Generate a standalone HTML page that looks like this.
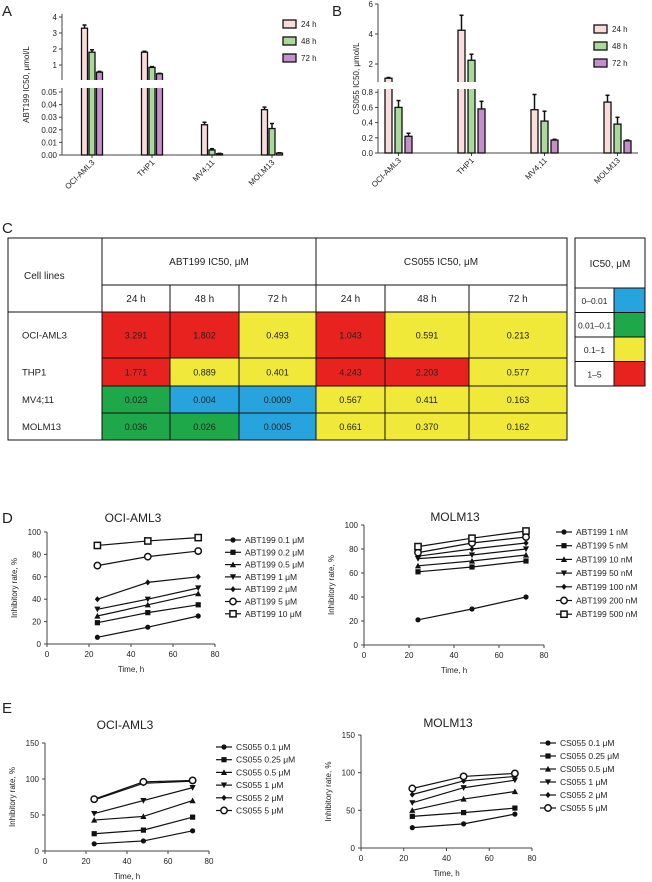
<!DOCTYPE html>
<html><head><meta charset="utf-8">
<style>
body{margin:0;background:#fff;font-family:"Liberation Sans",sans-serif;}
svg{display:block}
text{font-family:"Liberation Sans","DejaVu Sans",sans-serif;fill:#222}
</style></head>
<body>
<svg id="fig" width="652" height="882" viewBox="0 0 652 882" xmlns="http://www.w3.org/2000/svg">
<text x="2" y="16" font-size="15">A</text>
<text x="332" y="16" font-size="15">B</text>
<text x="2" y="233" font-size="15">C</text>
<text x="2" y="523" font-size="15">D</text>
<text x="2" y="713" font-size="15">E</text>
<g id="gA"></g>
<g id="gB"></g>
<g id="gC"></g>
<g id="gD1"></g>
<g id="gD2"></g>
<g id="gE1"></g>
<g id="gE2"></g>
</svg>
<script>
// ---- Panel A/B data ----
const barCategories = ["OCI-AML3","THP1","MV4;11","MOLM13"];
const timeLabels = ["24 h","48 h","72 h"];
const abt24 = [3.3,1.8,0.024,0.036];
const abt48 = [1.8,0.85,0.004,0.021];
const abt72 = [0.55,0.45,0.001,0.0015];
const abtErr24 = [0.2,0.06,0.002,0.002];
const abtErr48 = [0.15,0.05,0.001,0.004];
const abtErr72 = [0.05,0.03,0.0003,0.0003];
const cs24 = [1.05,4.25,0.57,0.67];
const cs48 = [0.6,2.25,0.42,0.38];
const cs72 = [0.22,0.58,0.17,0.16];
const csErr24 = [0.05,1.0,0.2,0.09];
const csErr48 = [0.09,0.4,0.13,0.09];
const csErr72 = [0.04,0.1,0.01,0.01];
const abtUpperTicks = [1,2,3,4];
const abtLowerTicks = ["0.00","0.01","0.02","0.03","0.04","0.05"];
const csUpperTicks = [2,4,6];
const csLowerTicks = ["0.0","0.2","0.4","0.6","0.8"];
// ---- Panel C data ----
const tableRows = ["OCI-AML3","THP1","MV4;11","MOLM13"];
const abtTable = [["3.291","1.802","0.493"],["1.771","0.889","0.401"],["0.023","0.004","0.0009"],["0.036","0.026","0.0005"]];
const csTable = [["1.043","0.591","0.213"],["4.243","2.203","0.577"],["0.567","0.411","0.163"],["0.661","0.370","0.162"]];
const legendRanges = ["0\u20130.01","0.01\u20130.1","0.1\u20131","1\u20135"];
// ---- Panel D/E data ----
const timesH = [24,48,72];
const xTicks = [0,20,40,60,80];
const dTicks = [0,20,40,60,80,100];
const eTicks = [0,50,100,150];
const dOciLabels = ["ABT199 0.1 \u03bcM","ABT199 0.2 \u03bcM","ABT199 0.5 \u03bcM","ABT199 1 \u03bcM","ABT199 2 \u03bcM","ABT199 5 \u03bcM","ABT199 10 \u03bcM"];
const dOci01 = [6,15,25];
const dOci02 = [19,28,35];
const dOci05 = [25,35,45];
const dOci1 = [31,40,50];
const dOci2 = [40,55,60];
const dOci5 = [70,78,83];
const dOci10 = [88,92,95];
const dMolmLabels = ["ABT199 1 nM","ABT199 5 nM","ABT199 10 nM","ABT199 50 nM","ABT199 100 nM","ABT199 200 nM","ABT199 500 nM"];
const dMolm1 = [21,30,40];
const dMolm5 = [61,65,70];
const dMolm10 = [66,70,75];
const dMolm50 = [72,75,80];
const dMolm100 = [74,80,85];
const dMolm200 = [77,85,90];
const dMolm500 = [82,89,95];
const eLabels = ["CS055 0.1 \u03bcM","CS055 0.25 \u03bcM","CS055 0.5 \u03bcM","CS055 1 \u03bcM","CS055 2 \u03bcM","CS055 5 \u03bcM"];
const eOci01 = [10,14,28];
const eOci025 = [24,29,47];
const eOci05 = [43,48,70];
const eOci1 = [52,70,88];
const eOci2 = [71,94,97];
const eOci5 = [72,96,98];
const eMolm01 = [27,32,45];
const eMolm025 = [42,47,53];
const eMolm05 = [50,65,75];
const eMolm1 = [60,80,90];
const eMolm2 = [71,89,95];
const eMolm5 = [79,95,99];

const NS="http://www.w3.org/2000/svg";
function mk(tag,attrs,parent){const e=document.createElementNS(NS,tag);for(const k in attrs)e.setAttribute(k,attrs[k]);parent.appendChild(e);return e;}
function txt(s,attrs,parent){const e=mk('text',attrs,parent);e.textContent=s;return e;}
const fills=["#fbdcdc","#a9d99b","#c58fcb"];

function barChart(g,o){
  const yLow=v=>o.low0-v*o.lowK, yUp=v=>o.up0-v*o.upK;
  const yv=v=>v<=o.lowMax?yLow(v):yUp(v);
  const xc=i=>o.x0+o.gap*(i+0.5);
  let a=mk('line',{x1:o.ax,y1:o.yTop,x2:o.ax,y2:o.brkTop,stroke:'#444','stroke-width':1},g);
  
  a=mk('line',{x1:o.ax,y1:o.brkBot,x2:o.ax,y2:o.low0,stroke:'#444','stroke-width':1},g);
  
  a=mk('line',{x1:o.ax,y1:o.low0,x2:o.xEnd,y2:o.low0,stroke:'#444','stroke-width':1},g);
  
  o.upTicks.forEach(t=>{const y=yUp(t);mk('line',{x1:o.ax-3,y1:y,x2:o.ax,y2:y,stroke:'#444'},g);
    const l=txt(String(t),{x:o.ax-5,y:y+3,'font-size':8,'text-anchor':'end'},g);
    });
  o.lowTicks.forEach(t=>{const y=yLow(parseFloat(t));mk('line',{x1:o.ax-3,y1:y,x2:o.ax,y2:y,stroke:'#444'},g);
    const l=txt(t,{x:o.ax-5,y:y+3,'font-size':8,'text-anchor':'end'},g);
    });
  const yl=txt(o.ylabel,{x:0,y:0,'font-size':8,'text-anchor':'middle',transform:`translate(${o.ylx},${(o.yTop+o.low0)/2}) rotate(-90)`},g);
  
  const series=[o.s24,o.s48,o.s72], errs=[o.e24,o.e48,o.e72];
  barCategories.forEach((c,i)=>{
    const cx=xc(i);
    mk('line',{x1:cx,y1:o.low0,x2:cx,y2:o.low0+3,stroke:'#444'},g);
    const tl=txt(c,{x:0,y:0,'font-size':8,'text-anchor':'end',transform:`translate(${cx+3},${o.low0+8}) rotate(-45)`},g);
    
    series.forEach((s,j)=>{
      const bx=cx+(j-1)*o.bstep-o.bw/2, top=yv(s[i]);
      const et=yv(s[i]+errs[j][i]);
      mk('line',{x1:bx+o.bw/2,y1:top,x2:bx+o.bw/2,y2:et,stroke:'#111','stroke-width':1.5},g);
      mk('line',{x1:bx+o.bw/2-2,y1:et,x2:bx+o.bw/2+2,y2:et,stroke:'#111','stroke-width':1.5},g);
      const r=mk('rect',{x:bx,y:top,width:o.bw,height:o.low0-top,fill:fills[j],stroke:'#111','stroke-width':1.3},g);
      
      
    });
  });
  mk('rect',{x:o.ax-10,y:o.brkTop,width:o.xEnd-o.ax+12,height:o.brkBot-o.brkTop,fill:'#fff'},g);
  timeLabels.forEach((t,j)=>{
    const y=o.legY+j*o.legStep;
    const r=mk('rect',{x:o.legX,y:y,width:13,height:8,fill:fills[j],stroke:'#111','stroke-width':1.3},g);
    
    const l=txt(t,{x:o.legX+18,y:y+7,'font-size':8},g);
    
  });
}
barChart(document.getElementById('gA'),{ax:62,x0:62,gap:60,xEnd:270,yTop:14,low0:155,lowK:1260,lowMax:0.05,up0:81,upK:16,brkTop:80,brkBot:88,
  bw:6,bstep:7.5,upTicks:abtUpperTicks,lowTicks:abtLowerTicks,ylabel:'ABT199 IC50, \u03bcmol/L',ylx:29,
  s24:abt24,s48:abt48,s72:abt72,e24:abtErr24,e48:abtErr48,e72:abtErr72,legX:283,legY:20,legStep:17});
barChart(document.getElementById('gB'),{ax:378,x0:362,gap:73,xEnd:638,yTop:4,low0:153,lowK:76,lowMax:0.8,up0:94,upK:15,brkTop:82,brkBot:89,
  bw:7,bstep:10,upTicks:csUpperTicks,lowTicks:csLowerTicks,ylabel:'CS055 IC50, \u03bcmol/L',ylx:359,
  s24:cs24,s48:cs48,s72:cs72,e24:csErr24,e48:csErr48,e72:csErr72,legX:594,legY:25,legStep:17});

(function(){
  const g=document.getElementById('gC');
  const cols=[8,102,170,239,316,385,469,567];
  const rows=[238,285,312,358,386,413,440];
  function col(v){v=parseFloat(v);return v<0.01?'#27a4dd':v<0.1?'#1ea84a':v<1?'#f0e93a':'#e8231f';}
  tableRows.forEach((r,i)=>{
    const vals=abtTable[i].concat(csTable[i]);
    vals.forEach((v,j)=>{
      const c=mk('rect',{x:cols[j+1],y:rows[i+2],width:cols[j+2]-cols[j+1],height:rows[i+3]-rows[i+2],fill:col(v),stroke:'#111','stroke-width':1},g);
      
      txt(v,{x:(cols[j+1]+cols[j+2])/2,y:(rows[i+2]+rows[i+3])/2+3.5,'font-size':9,'text-anchor':'middle'},g);
    });
    const rl=txt(r,{x:22,y:(rows[i+2]+rows[i+3])/2+3.5,'font-size':9.5},g);
    
  });
  mk('rect',{x:8,y:238,width:559,height:202,fill:'none',stroke:'#111','stroke-width':1},g);
  mk('line',{x1:102,y1:238,x2:102,y2:440,stroke:'#111'},g);
  mk('line',{x1:316,y1:238,x2:316,y2:440,stroke:'#111'},g);
  mk('line',{x1:102,y1:285,x2:567,y2:285,stroke:'#111'},g);
  mk('line',{x1:8,y1:312,x2:567,y2:312,stroke:'#111'},g);
  [170,239,385,469].forEach(x=>mk('line',{x1:x,y1:285,x2:x,y2:312,stroke:'#111'},g));
  txt('Cell lines',{x:24,y:279,'font-size':10},g);
  txt('ABT199 IC50, \u03bcM',{x:209,y:265,'font-size':10,'text-anchor':'middle'},g);
  txt('CS055 IC50, \u03bcM',{x:441,y:265,'font-size':10,'text-anchor':'middle'},g);
  timeLabels.concat(timeLabels).forEach((t,j)=>txt(t,{x:(cols[j+1]+cols[j+2])/2,y:302,'font-size':10,'text-anchor':'middle'},g));
  mk('rect',{x:575,y:238,width:70,height:148,fill:'#fff',stroke:'#111'},g);
  txt('IC50, \u03bcM',{x:610,y:267,'font-size':10,'text-anchor':'middle'},g);
  const lc=['#27a4dd','#1ea84a','#f0e93a','#e8231f'];
  legendRanges.forEach((t,k)=>{
    const y=288+k*24.5;
    mk('rect',{x:575,y:y,width:70,height:24.5,fill:'#fff',stroke:'#111'},g);
    const s=mk('rect',{x:614,y:y,width:31,height:24.5,fill:lc[k],stroke:'#111'},g);
    
    const l=txt(t,{x:594.5,y:y+16,'font-size':8.5,'text-anchor':'middle'},g);
    
  });
})();

function marker(g,type,x,y){
  const s=2.6;let m;
  if(type==='circle')m=mk('circle',{cx:x,cy:y,r:s,fill:'#111'},g);
  else if(type==='square')m=mk('rect',{x:x-s,y:y-s,width:2*s,height:2*s,fill:'#111'},g);
  else if(type==='up')m=mk('polygon',{points:`${x},${y-s-0.5} ${x+s+0.5},${y+s} ${x-s-0.5},${y+s}`,fill:'#111'},g);
  else if(type==='down')m=mk('polygon',{points:`${x},${y+s+0.5} ${x+s+0.5},${y-s} ${x-s-0.5},${y-s}`,fill:'#111'},g);
  else if(type==='diamond')m=mk('polygon',{points:`${x},${y-s-0.5} ${x+s},${y} ${x},${y+s+0.5} ${x-s},${y}`,fill:'#111'},g);
  else if(type==='ocircle')m=mk('circle',{cx:x,cy:y,r:s+0.6,fill:'#fff',stroke:'#111','stroke-width':1.5},g);
  else m=mk('rect',{x:x-s-0.5,y:y-s-0.5,width:2*s+1,height:2*s+1,fill:'#fff',stroke:'#111','stroke-width':1.5},g);
  return m;
}
function lineChart(g,o){
  const X=v=>o.x0+(v/80)*(o.x1-o.x0), Y=v=>o.y0-(v/o.ymax)*(o.y0-o.y1);
  let a=mk('line',{x1:o.x0,y1:o.y0,x2:o.x1,y2:o.y0,stroke:'#444'},g);
  
  a=mk('line',{x1:o.x0,y1:o.y1,x2:o.x0,y2:o.y0,stroke:'#444'},g);
  
  xTicks.forEach(t=>{mk('line',{x1:X(t),y1:o.y0,x2:X(t),y2:o.y0+3,stroke:'#444'},g);
    const l=txt(String(t),{x:X(t),y:o.y0+13,'font-size':8,'text-anchor':'middle'},g);
    });
  o.yTicks.forEach(t=>{mk('line',{x1:o.x0-3,y1:Y(t),x2:o.x0,y2:Y(t),stroke:'#444'},g);
    const l=txt(String(t),{x:o.x0-6,y:Y(t)+3,'font-size':8,'text-anchor':'end'},g);
    });
  let t=txt(o.title,{x:o.tx,y:o.ty,'font-size':12,'text-anchor':'middle'},g);
  
  t=txt('Time, h',{x:(o.x0+o.x1)/2,y:o.y0+28,'font-size':8,'text-anchor':'middle'},g);
  
  t=txt('Inhibitory rate, %',{x:0,y:0,'font-size':8,'text-anchor':'middle',transform:`translate(${o.x0-30},${(o.y0+o.y1)/2}) rotate(-90)`},g);
  
  o.series.forEach((s,k)=>{
    const p=mk('polyline',{points:s.map((v,i)=>X(timesH[i])+','+Y(v)).join(' '),fill:'none',stroke:'#111','stroke-width':1.2},g);
    
    s.forEach((v,i)=>{const m=marker(g,o.markers[k],X(timesH[i]),Y(v));
      });
    const ly=o.legY+k*o.legStep;
    mk('line',{x1:o.legX-8,y1:ly,x2:o.legX+8,y2:ly,stroke:'#111','stroke-width':1.2},g);
    marker(g,o.markers[k],o.legX,ly);
    const l=txt(o.labels[k],{x:o.legX+12,y:ly+3,'font-size':8.5},g);
    
  });
}
const mk7=['circle','square','up','down','diamond','ocircle','osquare'];
const mk6=['circle','square','up','down','diamond','ocircle'];
lineChart(document.getElementById('gD1'),{x0:47,x1:215,y0:644,y1:532,ymax:100,yTicks:dTicks,title:'OCI-AML3',tx:133,ty:522,
  series:[dOci01,dOci02,dOci05,dOci1,dOci2,dOci5,dOci10],markers:mk7,labels:dOciLabels,legX:233,legY:540,legStep:12.3});
lineChart(document.getElementById('gD2'),{x0:364,x1:544,y0:645,y1:525,ymax:100,yTicks:dTicks,title:'MOLM13',tx:455,ty:521,
  series:[dMolm1,dMolm5,dMolm10,dMolm50,dMolm100,dMolm200,dMolm500],markers:mk7,labels:dMolmLabels,legX:564,legY:532,legStep:13.7});
lineChart(document.getElementById('gE1'),{x0:45,x1:209,y0:851,y1:743,ymax:150,yTicks:eTicks,title:'OCI-AML3',tx:125,ty:729,
  series:[eOci01,eOci025,eOci05,eOci1,eOci2,eOci5],markers:mk6,labels:eLabels,legX:224,legY:747,legStep:12.7});
lineChart(document.getElementById('gE2'),{x0:361,x1:532,y0:848,y1:735,ymax:150,yTicks:eTicks,title:'MOLM13',tx:448,ty:727,
  series:[eMolm01,eMolm025,eMolm05,eMolm1,eMolm2,eMolm5],markers:mk6,labels:eLabels,legX:548,legY:743,legStep:13});
</script>
</body></html>
